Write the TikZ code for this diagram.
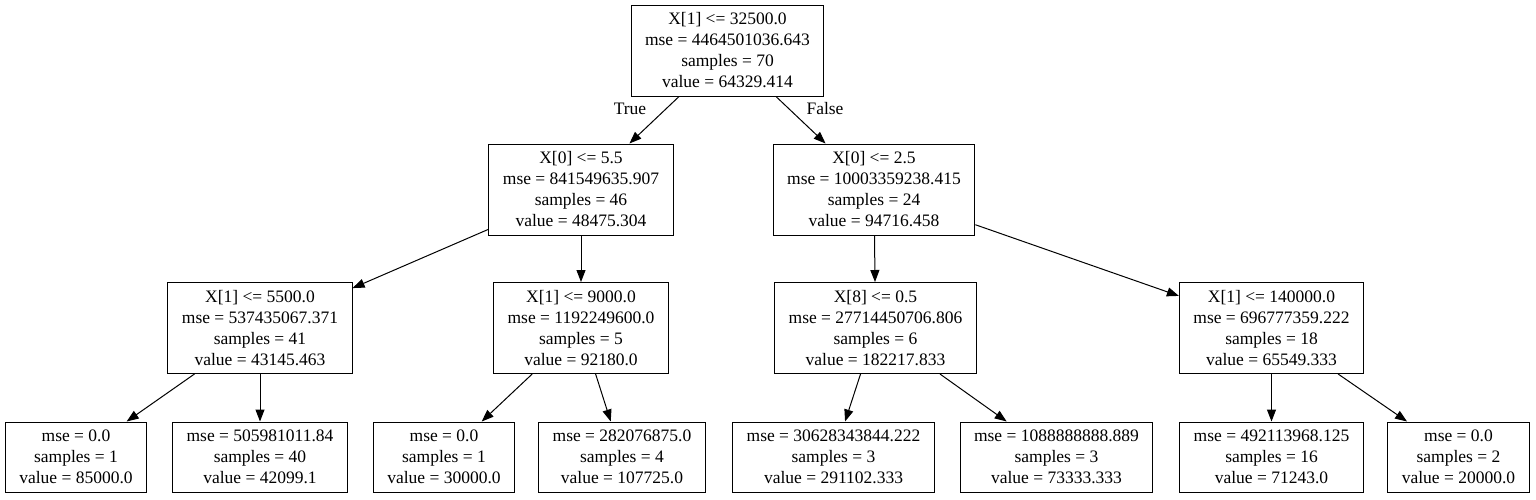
\documentclass[tikz,border=0pt]{standalone}
\usepackage{fontspec}
\setmainfont{Liberation Serif}
\usetikzlibrary{arrows.meta}
\begin{document}
\begin{tikzpicture}[x=1pt,y=-1pt,
  split/.style={draw,line width=1pt,align=center,inner xsep=14pt,inner ysep=0pt,
    minimum height=91pt,font=\fontsize{17.5}{21}\selectfont},
  leaf/.style={split,minimum height=70pt},
  lbl/.style={inner sep=0pt,font=\fontsize{17.5}{21}\selectfont},
  edge/.style={line width=1pt,-{Triangle[length=12pt,width=9pt]}}]
\useasboundingbox (0,0) rectangle (1536,499);
%
\node[split](n0) at (727.5,50.5){X[1] <= 32500.0\\mse = 4464501036.643\\samples = 70\\value = 64329.414};
%
\node[split](n1) at (581,189.5){X[0] <= 5.5\\mse = 841549635.907\\samples = 46\\value = 48475.304};
\node[split](n8) at (874,189.5){X[0] <= 2.5\\mse = 10003359238.415\\samples = 24\\value = 94716.458};
%
\node[split](n2) at (260,328){X[1] <= 5500.0\\mse = 537435067.371\\samples = 41\\value = 43145.463};
\node[split](n5) at (581,328){X[1] <= 9000.0\\mse = 1192249600.0\\samples = 5\\value = 92180.0};
\node[split](n9) at (875.5,328){X[8] <= 0.5\\mse = 27714450706.806\\samples = 6\\value = 182217.833};
\node[split](n12) at (1271.5,328){X[1] <= 140000.0\\mse = 696777359.222\\samples = 18\\value = 65549.333};
%
\node[leaf](n3) at (76,457){mse = 0.0\\samples = 1\\value = 85000.0};
\node[leaf](n4) at (260,457){mse = 505981011.84\\samples = 40\\value = 42099.1};
\node[leaf](n6) at (444,457){mse = 0.0\\samples = 1\\value = 30000.0};
\node[leaf](n7) at (622,457){mse = 282076875.0\\samples = 4\\value = 107725.0};
\node[leaf](n10) at (833.5,457){mse = 30628343844.222\\samples = 3\\value = 291102.333};
\node[leaf](n11) at (1056.5,457){mse = 1088888888.889\\samples = 3\\value = 73333.333};
\node[leaf](n13) at (1271.5,457){mse = 492113968.125\\samples = 16\\value = 71243.0};
\node[leaf](n14) at (1458.5,457){mse = 0.0\\samples = 2\\value = 20000.0};
%
\draw[edge](n0)--(n1);
\draw[edge](n0)--(n8);
\node[lbl](t) at (630,109){True};
\node[lbl](f) at (825,109){False};
%
\draw[edge](n1)--(n2);
\draw[edge](n1)--(n5);
\draw[edge](n8)--(n9);
\draw[edge](n8)--(n12);
%
\draw[edge](n2)--(n3);
\draw[edge](n2)--(n4);
\draw[edge](n5)--(n6);
\draw[edge](n5)--(n7);
\draw[edge](n9)--(n10);
\draw[edge](n9)--(n11);
\draw[edge](n12)--(n13);
\draw[edge](n12)--(n14);
\end{tikzpicture}
\end{document}
